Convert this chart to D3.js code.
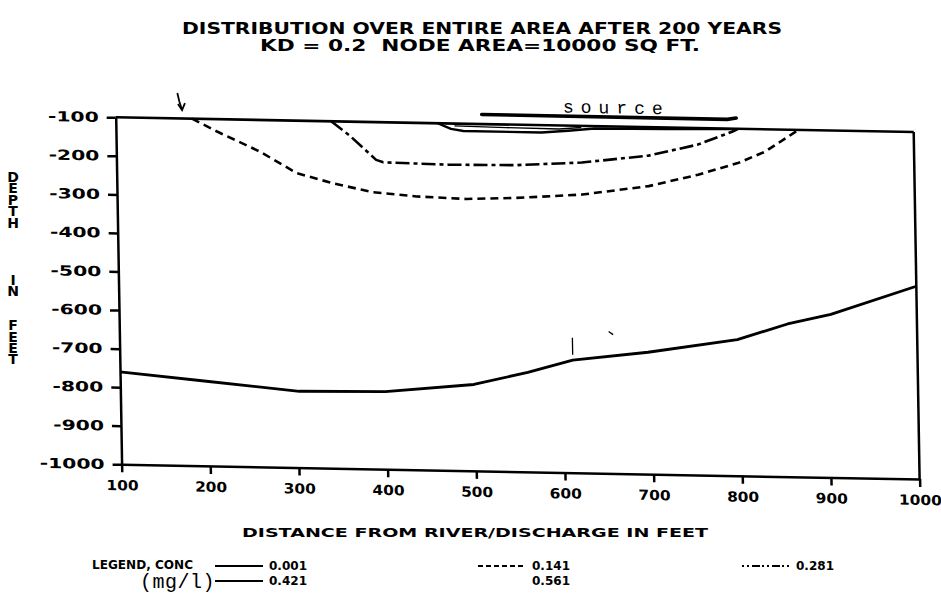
<!DOCTYPE html>
<html>
<head>
<meta charset="utf-8">
<script src="https://cdn.jsdelivr.net/npm/d3@7"></script>
<style>
  body { margin: 0; background: #fff; }
  svg { display: block; }
  .plot text { font-family: "DejaVu Sans", sans-serif; font-weight: bold; fill: #000; }
  .vtitle { writing-mode: vertical-rl; text-orientation: upright; }
</style>
</head>
<body>
<svg id="chart" width="941" height="600"></svg>
<script>
// Tick values along each axis
const xTicks = [100, 200, 300, 400, 500, 600, 700, 800, 900, 1000];
const yTicks = [-100, -200, -300, -400, -500, -600, -700, -800, -900, -1000];

// Concentration contours: [distance (ft), depth (ft)]
const conc001 = [[100,-760],[200,-781],[302,-802],[399,-799],[499,-776],[560,-742],[611,-708],[696,-684],[797,-647],[854,-604],[903,-577],[1000,-500]];
const conc141 = [[186,-100],[214,-132],[262,-182],[303,-236],[344,-261],[389,-282],[438,-291],[494,-295],[550,-290],[625,-278],[700,-253],[756,-221],[801,-189],[832,-158],[870,-100]];
const conc281 = [[343,-100],[363,-135],[393,-198],[401,-204],[475,-207],[550,-205],[625,-195],[700,-174],[756,-143],[795,-108],[802,-100]];
const conc421 = [[463,-100],[478,-114],[492,-119],[580,-119],[610,-113],[640,-106],[720,-104],[800,-101]];
const conc561 = [[482,-106],[540,-108],[600,-109],[625,-104]];

// Legend entries
const legendRow1 = [["0.001", "solid"], ["0.141", "dash"], ["0.281", "dashdot"]];
const legendRow2 = [["0.421", "solid"], ["0.561", "none"]];

// Annotations drawn on the section
const sourceBar = [[513,-75],[790,-76],[800,-72]];
const sourceText = { x: 661, y: -66, label: "source" };
const arrowLine = [[170,-34],[172,-55],[175,-78]];
const kinkMarks = [[[611,-650],[611,-694]], [[652,-632],[657,-640]]];

const W = 798, H = 347;
const svg = d3.select("#chart");

const dashes = { solid: null, dash: "8,5", dashdot: "14,4,4,4" };
const legendDashes = { solid: null, dash: "5,3", dashdot: "2,3,2,3,8,2" };

// Stretch a text horizontally to a given width (plotter lettering is wide)
function fitWidth(sel, width) {
  sel.attr("textLength", width).attr("lengthAdjust", "spacingAndGlyphs");
  return sel;
}
function widen(sel, factor) {
  sel.each(function () {
    const len = this.getComputedTextLength();
    d3.select(this).attr("textLength", len * factor).attr("lengthAdjust", "spacingAndGlyphs");
  });
}

// Titles
const heading = svg.append("g").attr("class", "plot");
fitWidth(heading.append("text").attr("x", 482).attr("y", 34).attr("text-anchor", "middle")
  .attr("font-size", 15).text("DISTRIBUTION OVER ENTIRE AREA AFTER 200 YEARS"), 600);
fitWidth(heading.append("text").attr("x", 480).attr("y", 51).attr("text-anchor", "middle")
  .attr("font-size", 15).attr("xml:space", "preserve")
  .text("KD = 0.2  NODE AREA=10000 SQ FT."), 440);

// Vertical axis title with upright letters
heading.append("text").attr("class", "vtitle")
  .attr("x", 13).attr("y", 169)
  .attr("font-size", 14).attr("letter-spacing", -4.6)
  .attr("xml:space", "preserve")
  .text("DEPTH    IN  FEET");

// Plot area (the section sits slightly skewed on the sheet)
const g = svg.append("g").attr("class", "plot")
  .attr("transform", "matrix(1,0.0185,0.017,1,115.7,117.3)");

const x = d3.scaleLinear().domain([100, 1000]).range([0, W]);
const y = d3.scaleLinear().domain([-100, -1000]).range([0, H]);

const yAxis = g.append("g").call(
  d3.axisLeft(y).tickValues(yTicks).tickSize(9).tickSizeOuter(0).tickPadding(8).tickFormat(d => String(d)));
const xAxis = g.append("g").attr("transform", `translate(0,${H})`).call(
  d3.axisBottom(x).tickValues(xTicks).tickSize(8).tickSizeOuter(0).tickPadding(8).tickFormat(d => String(d)));

[[yAxis, 1.45], [xAxis, 1.1]].forEach(([a, k]) => {
  a.selectAll("path, line").attr("stroke", "#000").attr("stroke-width", 2.5);
  a.selectAll("text").attr("fill", "#000").attr("font-size", 14)
    .attr("font-family", "DejaVu Sans").attr("font-weight", "bold");
  widen(a.selectAll("text"), k);
});

// Top and right edges of the section
g.append("line").attr("x1", x(100)).attr("x2", x(1000)).attr("y1", y(-100)).attr("y2", y(-100))
  .attr("stroke", "#000").attr("stroke-width", 2.6);
g.append("line").attr("x1", x(1000)).attr("x2", x(1000)).attr("y1", y(-100)).attr("y2", y(-1000))
  .attr("stroke", "#000").attr("stroke-width", 2.5);

const line = d3.line().x(d => x(d[0])).y(d => y(d[1]));

const curves = [
  { data: conc001, dash: dashes.solid, w: 2.8 },
  { data: conc141, dash: dashes.dash, w: 2.6 },
  { data: conc281, dash: dashes.dashdot, w: 2.6 },
  { data: conc421, dash: dashes.solid, w: 2.4 },
  { data: conc561, dash: dashes.solid, w: 1.4 }
];
g.append("g").selectAll("path").data(curves).join("path")
  .attr("d", d => line(d.data))
  .attr("fill", "none").attr("stroke", "#000")
  .attr("stroke-width", d => d.w)
  .attr("stroke-dasharray", d => d.dash)
  .attr("stroke-linejoin", "round");

// Source marker above the section
g.append("path").attr("d", line(sourceBar)).attr("fill", "none")
  .attr("stroke", "#000").attr("stroke-width", 3.6).attr("stroke-linecap", "round");
g.append("text").attr("x", x(sourceText.x)).attr("y", y(sourceText.y))
  .attr("text-anchor", "middle").attr("font-size", 18).attr("letter-spacing", 7)
  .attr("dx", 3.5)
  .style("font-family", "'Liberation Mono', monospace").style("font-weight", "normal")
  .text(sourceText.label);

// Arrow at the edge of the plume
g.append("path").attr("d", line(arrowLine)).attr("fill", "none").attr("stroke", "#000").attr("stroke-width", 1.8);
const tip = arrowLine[arrowLine.length - 1];
g.append("path")
  .attr("d", `M${x(tip[0]) - 4},${y(tip[1]) - 6}L${x(tip[0])},${y(tip[1])}L${x(tip[0]) + 3},${y(tip[1]) - 7}`)
  .attr("fill", "none").attr("stroke", "#000").attr("stroke-width", 1.8);

g.append("g").selectAll("path").data(kinkMarks).join("path")
  .attr("d", d => line(d)).attr("stroke", "#000").attr("stroke-width", 1.3);

// X axis title
fitWidth(svg.append("text").attr("class", "plot").attr("x", 475).attr("y", 537)
  .attr("text-anchor", "middle").attr("font-size", 13)
  .style("font-family", "DejaVu Sans").style("font-weight", "bold")
  .text("DISTANCE FROM RIVER/DISCHARGE IN FEET"), 466);

// Legend
const leg = svg.append("g").attr("class", "plot");
fitWidth(leg.append("text").attr("x", 92).attr("y", 569).attr("font-size", 12)
  .text("LEGEND, CONC"), 101);
leg.append("text").attr("x", 140).attr("y", 588).attr("font-size", 20).attr("letter-spacing", 0.5)
  .style("font-family", "'Liberation Mono', monospace").style("font-weight", "normal")
  .text("(mg/l)");

const colX = [215, 478, 742];
function legendRow(row, yy) {
  row.forEach((d, i) => {
    const lx = colX[i];
    if (d[1] !== "none") {
      leg.append("line").attr("x1", lx).attr("x2", lx + 48).attr("y1", yy - 4).attr("y2", yy - 4)
        .attr("stroke", "#000").attr("stroke-width", 2.2)
        .attr("stroke-dasharray", legendDashes[d[1]]);
    }
    fitWidth(leg.append("text").attr("x", lx + 54).attr("y", yy).attr("font-size", 12)
      .text(d[0]), 38);
  });
}
legendRow(legendRow1, 570);
legendRow(legendRow2, 585);
</script>
</body>
</html>
